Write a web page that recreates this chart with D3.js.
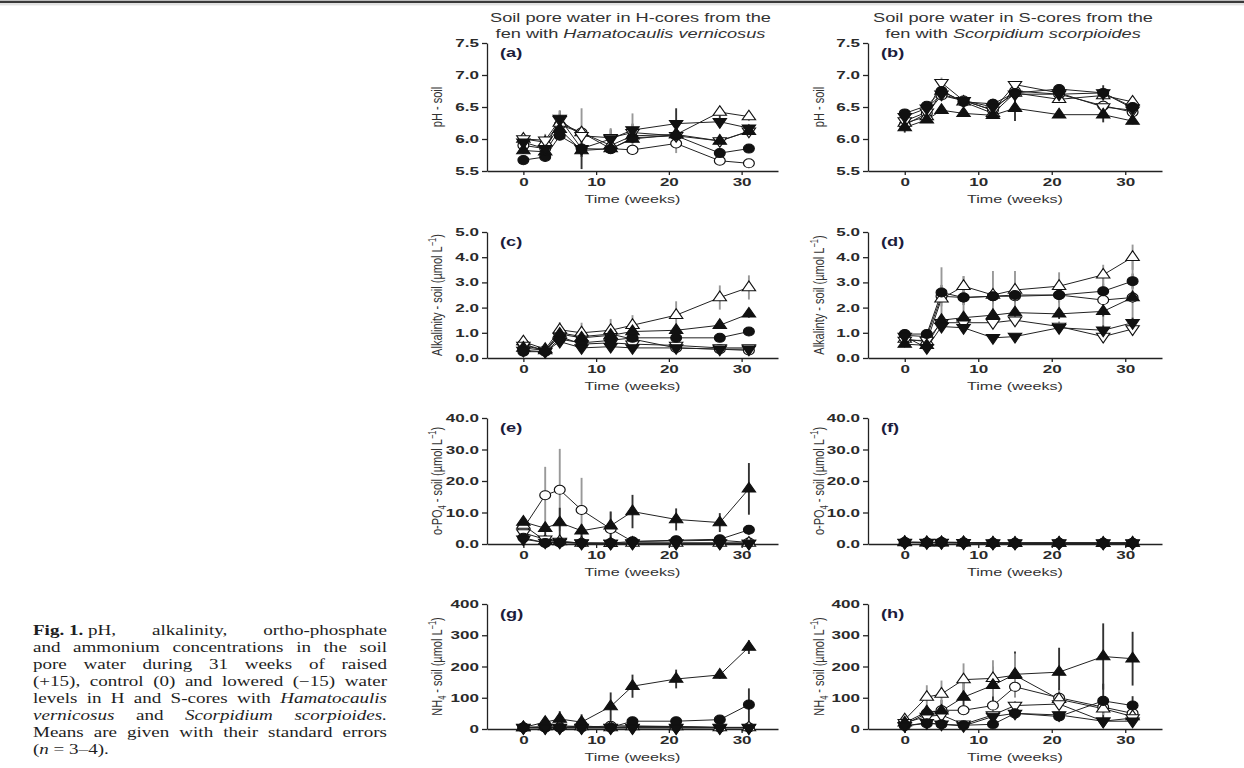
<!DOCTYPE html>
<html><head><meta charset="utf-8">
<script src="https://cdn.jsdelivr.net/npm/d3@7"></script>
<style>body{margin:0;background:#fff}svg{display:block}</style>
</head><body><svg id="c" width="1244" height="768"></svg>
<script>
// ---------------- DATA ----------------
const weeks = [0,3,5,8,12,15,21,27,31];
const xTicks = [0,10,20,30];
// series order: fc filled circle, oc open circle, fu filled up-tri, ou open up-tri, fd filled down-tri, od open down-tri
// (a) pH H-cores
const a_fc = [5.67,5.72,6.05,5.85,5.84,6.02,6.05,5.78,5.85];
const a_oc = [5.90,5.85,6.22,6.10,5.85,5.83,5.93,5.66,5.62];
const a_fu = [5.82,5.80,6.15,5.82,5.85,6.00,6.07,5.97,6.12];
const a_ou = [6.00,5.95,6.25,6.10,5.90,6.05,6.07,6.42,6.35];
const a_fd = [5.95,5.85,6.32,5.85,6.00,6.14,6.24,6.27,6.17];
const a_od = [6.00,5.98,6.30,6.05,6.02,6.10,6.05,5.97,6.12];
const a_fc_se = [0.06,0.05,0.05,0.08,0.05,0.05,0.05,0.05,0.05];
const a_oc_se = [0.05,0.05,0.10,0.38,0.05,0.08,0.15,0.05,0.05];
const a_fu_se = [0.05,0.05,0.08,0.10,0.05,0.05,0.05,0.05,0.05];
const a_ou_se = [0.05,0.06,0.15,0.10,0.05,0.10,0.08,0.05,0.07];
const a_fd_se = [0.08,0.08,0.12,0.32,0.15,0.10,0.24,0.10,0.05];
const a_od_se = [0.05,0.10,0.15,0.10,0.15,0.30,0.10,0.10,0.05];
// (b) pH S-cores
const b_fc = [6.40,6.52,6.75,6.58,6.55,6.72,6.78,6.72,6.50];
const b_oc = [6.22,6.40,6.68,6.60,6.45,6.75,6.70,6.52,6.42];
const b_fu = [6.18,6.30,6.45,6.40,6.37,6.48,6.38,6.38,6.28];
const b_ou = [6.25,6.35,6.75,6.58,6.40,6.72,6.62,6.68,6.58];
const b_fd = [6.35,6.48,6.70,6.60,6.50,6.70,6.70,6.72,6.48];
const b_od = [6.28,6.42,6.88,6.60,6.45,6.85,6.72,6.50,6.45];
const b_fc_se = [0.05,0.05,0.05,0.05,0.08,0.05,0.05,0.05,0.05];
const b_oc_se = [0.05,0.05,0.05,0.05,0.05,0.05,0.05,0.05,0.05];
const b_fu_se = [0.08,0.05,0.05,0.05,0.05,0.20,0.05,0.12,0.05];
const b_ou_se = [0.05,0.05,0.05,0.05,0.05,0.05,0.05,0.05,0.05];
const b_fd_se = [0.05,0.05,0.05,0.05,0.10,0.05,0.05,0.12,0.05];
const b_od_se = [0.05,0.05,0.08,0.05,0.05,0.05,0.05,0.05,0.05];
// (c) alkalinity H-cores
const c_fc = [0.25,0.25,0.75,0.60,0.70,0.80,0.80,0.80,1.05];
const c_oc = [0.55,0.30,1.00,0.85,0.95,0.75,0.40,0.35,0.30];
const c_fu = [0.40,0.30,0.95,0.80,0.90,1.05,1.10,1.30,1.75];
const c_ou = [0.65,0.35,1.12,1.00,1.10,1.30,1.70,2.40,2.80];
const c_fd = [0.30,0.25,0.65,0.40,0.45,0.40,0.40,0.35,0.35];
const c_od = [0.50,0.30,0.85,0.55,0.60,0.55,0.50,0.40,0.40];
const c_fc_se = [0.05,0.05,0.10,0.10,0.10,0.10,0.10,0.05,0.08];
const c_oc_se = [0.10,0.05,0.15,0.10,0.10,0.10,0.10,0.05,0.05];
const c_fu_se = [0.05,0.05,0.10,0.10,0.10,0.15,0.20,0.10,0.15];
const c_ou_se = [0.10,0.05,0.30,0.40,0.45,0.40,0.55,0.48,0.48];
const c_fd_se = [0.05,0.05,0.10,0.05,0.05,0.05,0.05,0.05,0.05];
const c_od_se = [0.05,0.05,0.10,0.10,0.10,0.10,0.10,0.05,0.05];
// (d) alkalinity S-cores
const d_fc = [0.95,0.95,2.60,2.40,2.45,2.50,2.50,2.65,3.05];
const d_oc = [0.90,0.85,2.45,2.40,2.45,2.45,2.50,2.30,2.40];
const d_fu = [0.55,0.50,1.50,1.60,1.70,1.80,1.75,1.85,2.40];
const d_ou = [0.75,0.65,2.35,2.85,2.50,2.70,2.85,3.30,4.00];
const d_fd = [0.85,0.40,1.25,1.20,0.80,0.85,1.20,1.10,1.40];
const d_od = [0.70,0.70,1.40,1.40,1.40,1.50,1.25,0.85,1.15];
const d_fc_se = [0.15,0.15,0.30,0.30,0.30,0.30,0.30,0.30,0.30];
const d_oc_se = [0.20,0.15,1.15,0.85,1.00,1.00,0.90,1.00,1.50];
const d_fu_se = [0.10,0.10,0.20,0.20,0.20,0.20,0.20,0.20,0.20];
const d_ou_se = [0.15,0.10,0.30,0.40,0.30,0.30,0.30,0.40,0.50];
const d_fd_se = [0.10,0.10,0.15,0.15,0.10,0.10,0.15,0.20,0.20];
const d_od_se = [0.10,0.10,0.20,0.20,0.20,0.20,0.20,0.25,0.20];
// (e) o-PO4 H-cores
const e_fc = [2.0,0.3,0.5,0.3,0.3,0.8,1.2,1.5,4.5];
const e_oc = [5.0,15.5,17.2,10.8,4.8,0.8,1.0,1.2,0.5];
const e_fu = [7.0,5.0,6.8,4.2,5.8,10.3,7.8,6.8,17.5];
const e_ou = [6.0,1.0,0.8,0.3,0.2,0.3,0.3,0.3,0.3];
const e_fd = [1.5,0.5,0.5,0.2,0.2,0.2,0.2,0.2,0.2];
const e_od = [3.5,1.5,0.8,0.3,0.2,0.3,0.3,0.3,0.2];
const e_fc_se = [0.5,0.2,0.3,0.2,0.2,0.3,0.4,0.5,1.5];
const e_oc_se = [1.0,9.0,13.0,10.2,5.5,0.5,0.5,0.5,0.3];
const e_fu_se = [1.0,2.0,4.7,2.0,4.5,5.3,3.5,3.0,8.2];
const e_ou_se = [1.0,0.3,0.3,0.2,0.1,0.1,0.1,0.1,0.1];
const e_fd_se = [0.5,0.2,0.2,0.1,0.1,0.1,0.1,0.1,0.1];
const e_od_se = [1.0,0.5,0.3,0.1,0.1,0.1,0.1,0.1,0.1];
// (f) o-PO4 S-cores
const f_fc = [0.6,0.5,0.6,0.5,0.3,0.3,0.3,0.3,0.3];
const f_oc = [0.5,0.4,0.5,0.4,0.3,0.3,0.3,0.3,0.3];
const f_fu = [0.5,0.4,0.4,0.4,0.3,0.2,0.3,0.2,0.3];
const f_ou = [0.6,0.5,0.5,0.5,0.3,0.3,0.3,0.3,0.3];
const f_fd = [0.4,0.4,0.4,0.3,0.2,0.2,0.2,0.2,0.2];
const f_od = [0.5,0.5,0.5,0.4,0.3,0.3,0.3,0.3,0.3];
const f_fc_se = [0.1,0.1,0.1,0.1,0.1,0.1,0.1,0.1,0.1];
const f_oc_se = [0.1,0.1,0.1,0.1,0.1,0.1,0.1,0.1,0.1];
const f_fu_se = [0.1,0.1,0.1,0.1,0.1,0.1,0.1,0.1,0.1];
const f_ou_se = [0.1,0.1,0.1,0.1,0.1,0.1,0.1,0.1,0.1];
const f_fd_se = [0.1,0.1,0.1,0.1,0.1,0.1,0.1,0.1,0.1];
const f_od_se = [0.1,0.1,0.1,0.1,0.1,0.1,0.1,0.1,0.1];
// (g) NH4 H-cores
const g_fc = [5,5,5,10,5,25,25,30,78];
const g_oc = [5,5,5,5,10,10,8,5,5];
const g_fu = [5,22,32,22,72,137,160,173,262];
const g_ou = [5,8,10,8,5,8,8,5,5];
const g_fd = [3,3,3,3,3,3,3,3,3];
const g_od = [5,5,5,5,5,5,5,5,5];
const g_fc_se = [1,1,1,2,1,5,5,5,52];
const g_oc_se = [1,1,1,1,3,2,2,1,1];
const g_fu_se = [2,8,25,25,45,37,30,12,22];
const g_ou_se = [1,2,2,2,1,2,2,1,1];
const g_fd_se = [1,1,1,1,1,1,1,1,1];
const g_od_se = [1,1,1,1,1,1,1,1,1];
// (h) NH4 S-cores
const h_fc = [10,18,15,12,15,50,40,90,75];
const h_oc = [15,50,60,60,75,135,100,70,50];
const h_fu = [20,55,58,102,140,175,182,232,225];
const h_ou = [30,102,112,158,162,172,95,65,40];
const h_fd = [10,20,15,10,40,50,45,25,25];
const h_od = [20,40,45,15,45,75,80,25,35];
const h_fc_se = [5,5,5,5,5,15,10,55,30];
const h_oc_se = [5,10,15,15,20,30,30,20,20];
const h_fu_se = [5,20,35,50,60,73,78,106,86];
const h_ou_se = [5,38,43,52,58,70,30,20,15];
const h_fd_se = [3,5,5,5,10,10,10,10,10];
const h_od_se = [5,10,10,5,10,15,15,10,10];
// tick values
const pHTicks = [5.5,6.0,6.5,7.0,7.5];
const alkTicks = [0,1,2,3,4,5];
const po4Ticks = [0,10,20,30,40];
const nh4Ticks = [0,100,200,300,400];
// texts
const titleLeft = ["Soil pore water in H-cores from the", "fen with ", "Hamatocaulis vernicosus"];
const titleRight = ["Soil pore water in S-cores from the", "fen with ", "Scorpidium scorpioides"];
const panelLetters = ["(a)","(b)","(c)","(d)","(e)","(f)","(g)","(h)"];
const xLabel = "Time (weeks)";
const captionLines = [
  "{b}Fig.~1.{r}~pH, alkalinity, ortho-phosphate",
  "and ammonium concentrations in the soil",
  "pore water during 31 weeks of raised",
  "(+15), control (0) and lowered (−15) water",
  "levels in H and S-cores with {i}Hamatocaulis",
  "{i}vernicosus and {i}Scorpidium {i}scorpioides.",
  "Means are given with their standard errors",
  "({i}n{r}~=~3–4)."
];

// ---------------- LAYOUT ----------------
const svg = d3.select("#c");
const W = 1244;
const SX = 1.4;          // horizontal stretch of the scanned figure
const TSX = 1.55;        // stretch for tick labels
const colX = [[487,778],[868,1162]];
const rowY = [[43,171],[232,358],[418,544],[604,729]];
const SANS = "'Liberation Sans', Arial, sans-serif";
const SERIF = "'Liberation Serif', 'Times New Roman', serif";

// top border
svg.append("rect").attr("x",0).attr("y",0).attr("width",W).attr("height",1).attr("fill","#bbb");
svg.append("rect").attr("x",0).attr("y",1).attr("width",W).attr("height",2).attr("fill","#3a3a3a");
svg.append("rect").attr("x",0).attr("y",3).attr("width",W).attr("height",2).attr("fill","#e2e2e2");
svg.append("rect").attr("x",0).attr("y",5).attr("width",W).attr("height",1).attr("fill","#f3f3f3");

const seriesDefs = [
  {sym:d3.symbolCircle, size:64, fill:"#111", rot:0, err:"#333"},
  {sym:d3.symbolCircle, size:64, fill:"#fff", rot:0, err:"#999"},
  {sym:d3.symbolTriangle, size:54, fill:"#111", rot:0, err:"#333"},
  {sym:d3.symbolTriangle, size:54, fill:"#fff", rot:0, err:"#999"},
  {sym:d3.symbolTriangle, size:54, fill:"#111", rot:180, err:"#333"},
  {sym:d3.symbolTriangle, size:54, fill:"#fff", rot:180, err:"#999"}
];
const drawOrder = [1,3,5,0,2,4];

const panels = [
  {col:0,row:0,dom:[5.5,7.5],ticks:pHTicks,fmt:d3.format(".1f"),lab:[["pH - soil",""]],
   m:[a_fc,a_oc,a_fu,a_ou,a_fd,a_od],s:[a_fc_se,a_oc_se,a_fu_se,a_ou_se,a_fd_se,a_od_se]},
  {col:1,row:0,dom:[5.5,7.5],ticks:pHTicks,fmt:d3.format(".1f"),lab:[["pH - soil",""]],
   m:[b_fc,b_oc,b_fu,b_ou,b_fd,b_od],s:[b_fc_se,b_oc_se,b_fu_se,b_ou_se,b_fd_se,b_od_se]},
  {col:0,row:1,dom:[0,5],ticks:alkTicks,fmt:d3.format(".1f"),lab:[["Alkalinity - soil (µmol L",""],["−1","sup"],[")",""]],
   m:[c_fc,c_oc,c_fu,c_ou,c_fd,c_od],s:[c_fc_se,c_oc_se,c_fu_se,c_ou_se,c_fd_se,c_od_se]},
  {col:1,row:1,dom:[0,5],ticks:alkTicks,fmt:d3.format(".1f"),lab:[["Alkalinty - soil (µmol L",""],["−1","sup"],[")",""]],
   m:[d_fc,d_oc,d_fu,d_ou,d_fd,d_od],s:[d_fc_se,d_oc_se,d_fu_se,d_ou_se,d_fd_se,d_od_se]},
  {col:0,row:2,dom:[0,40],ticks:po4Ticks,fmt:d3.format(".1f"),lab:[["o-PO",""],["4","sub"],[" - soil (µmol L",""],["−1","sup"],[")",""]],
   m:[e_fc,e_oc,e_fu,e_ou,e_fd,e_od],s:[e_fc_se,e_oc_se,e_fu_se,e_ou_se,e_fd_se,e_od_se]},
  {col:1,row:2,dom:[0,40],ticks:po4Ticks,fmt:d3.format(".1f"),lab:[["o-PO",""],["4","sub"],[" - soil (µmol L",""],["−1","sup"],[")",""]],
   m:[f_fc,f_oc,f_fu,f_ou,f_fd,f_od],s:[f_fc_se,f_oc_se,f_fu_se,f_ou_se,f_fd_se,f_od_se]},
  {col:0,row:3,dom:[0,400],ticks:nh4Ticks,fmt:d3.format("d"),lab:[["NH",""],["4","sub"],[" - soil (µmol L",""],["−1","sup"],[")",""]],
   m:[g_fc,g_oc,g_fu,g_ou,g_fd,g_od],s:[g_fc_se,g_oc_se,g_fu_se,g_ou_se,g_fd_se,g_od_se]},
  {col:1,row:3,dom:[0,400],ticks:nh4Ticks,fmt:d3.format("d"),lab:[["NH",""],["4","sub"],[" - soil (µmol L",""],["−1","sup"],[")",""]],
   m:[h_fc,h_oc,h_fu,h_ou,h_fd,h_od],s:[h_fc_se,h_oc_se,h_fu_se,h_ou_se,h_fd_se,h_od_se]}
];

panels.forEach((p, pi) => {
  const [x0,x1] = colX[p.col];
  const [yt,yb] = rowY[p.row];
  const x = d3.scaleLinear().domain([-5,35]).range([x0,x1]);
  const y = d3.scaleLinear().domain(p.dom).range([yb,yt]);
  const g = svg.append("g");

  // axes
  const ya = g.append("g").attr("transform",`translate(${x0},0)`)
    .call(d3.axisLeft(y).tickValues(p.ticks).tickFormat(p.fmt).tickSize(5).tickSizeOuter(0));
  const xa = g.append("g").attr("transform",`translate(0,${yb})`)
    .call(d3.axisBottom(x).tickValues(xTicks).tickSize(4).tickSizeOuter(0));
  [ya,xa].forEach(a => {
    a.selectAll("path,line").attr("stroke","#222").attr("stroke-width",1.3);
    a.selectAll("text").attr("font-family",SANS).attr("font-size",11).attr("font-weight","bold")
      .attr("fill","#2a2a2a").attr("transform",`scale(${TSX},1)`);
  });
  ya.selectAll("text").attr("x",-8/TSX);

  // x label
  g.append("text").attr("transform",`translate(${(x0+x1)/2},${yb+32}) scale(${SX},1)`).attr("text-anchor","middle")
    .attr("font-family",SANS).attr("font-size",11.5).attr("fill","#333").text(xLabel);

  // y label
  const lx = x0 - (p.col===0 ? 45 : 44);
  const t = g.append("text").attr("transform",`translate(${lx},${(yt+yb)/2}) scale(${SX},1) rotate(-90)`)
    .attr("text-anchor","middle").attr("font-family",SANS).attr("font-size",11).attr("fill","#333");
  let prev = "";
  p.lab.forEach(([s,kind]) => {
    const ts = t.append("tspan").text(s);
    let dy = 0;
    if (kind==="sup") { ts.attr("font-size",7.5); dy = -4; }
    else if (kind==="sub") { ts.attr("font-size",7.5); dy = 3; }
    if (prev==="sup" && kind==="") dy = 4;
    if (prev==="sub" && kind==="") dy = -3;
    ts.attr("dy",dy);
    prev = kind;
  });

  // panel letter
  g.append("text").attr("transform",`translate(${x0+13},${yt+14}) scale(${SX},1)`).attr("font-family",SANS)
    .attr("font-size",13).attr("font-weight","bold").attr("fill","#1c1c3c").text(panelLetters[pi]);

  const line = d3.line().x((d,i)=>x(weeks[i])).y(d=>y(d));
  // lines
  p.m.forEach(arr => {
    g.append("path").attr("d",line(arr)).attr("fill","none").attr("stroke","#222").attr("stroke-width",1);
  });
  // error bars
  p.m.forEach((arr,si) => {
    const sd = seriesDefs[si];
    arr.forEach((v,i) => {
      const e = p.s[si][i];
      g.append("line").attr("x1",x(weeks[i])).attr("x2",x(weeks[i]))
        .attr("y1",y(Math.max(p.dom[0],v-e))).attr("y2",y(v+e))
        .attr("stroke",sd.err).attr("stroke-width",1.9);
    });
  });
  // markers
  drawOrder.forEach(si => {
    const arr = p.m[si];
    const sd = seriesDefs[si];
    const path = d3.symbol().type(sd.sym).size(sd.size)();
    arr.forEach((v,i) => {
      g.append("path").attr("d",path)
        .attr("transform",`translate(${x(weeks[i])},${y(v)}) scale(1.2,1) rotate(${sd.rot})`)
        .attr("fill",sd.fill).attr("stroke","#111").attr("stroke-width",1);
    });
  });
});

// titles
[[titleLeft,0],[titleRight,1]].forEach(([tt,c]) => {
  const cx = (colX[c][0]+colX[c][1])/2 - 2;
  svg.append("text").attr("transform",`translate(${cx},22) scale(${SX},1)`).attr("text-anchor","middle")
    .attr("font-family",SANS).attr("font-size",13).attr("fill","#333").text(tt[0]);
  const t2 = svg.append("text").attr("transform",`translate(${cx},38) scale(${SX},1)`).attr("text-anchor","middle")
    .attr("font-family",SANS).attr("font-size",13).attr("fill","#333");
  t2.append("tspan").text(tt[1]);
  t2.append("tspan").attr("font-style","italic").text(tt[2]);
});

// caption (justified)
const CSX = 1.36;
const capX0 = 33, capX1 = 387, capY0 = 635, capDY = 16.95;
function addToken(sel, tok){
  const parts = tok.replace(/~/g," ").split(/(\{[bir]\})/);
  let style = "r";
  parts.forEach(pt => {
    const m = pt.match(/^\{([bir])\}$/);
    if (m) { style = m[1]; return; }
    if (!pt) return;
    const ts = sel.append("tspan").text(pt);
    if (style==="b") ts.attr("font-weight","bold");
    if (style==="i") ts.attr("font-style","italic");
  });
}
captionLines.forEach((ln, li) => {
  const yy = capY0 + li*capDY;
  const toks = ln.split(" ");
  const last = li === captionLines.length-1;
  const nodes = toks.map(tok => {
    const t = svg.append("text").attr("font-family",SERIF).attr("font-size",14).attr("fill","#1e1e1e");
    addToken(t, tok);
    return t;
  });
  const widths = nodes.map(n => n.node().getComputedTextLength()*CSX);
  const total = d3.sum(widths);
  const gap = last ? 5 : (capX1-capX0-total)/(toks.length-1);
  let cx = capX0;
  nodes.forEach((n,i) => { n.attr("transform",`translate(${cx},${yy}) scale(${CSX},1)`); cx += widths[i] + gap; });
});
</script></body></html>
